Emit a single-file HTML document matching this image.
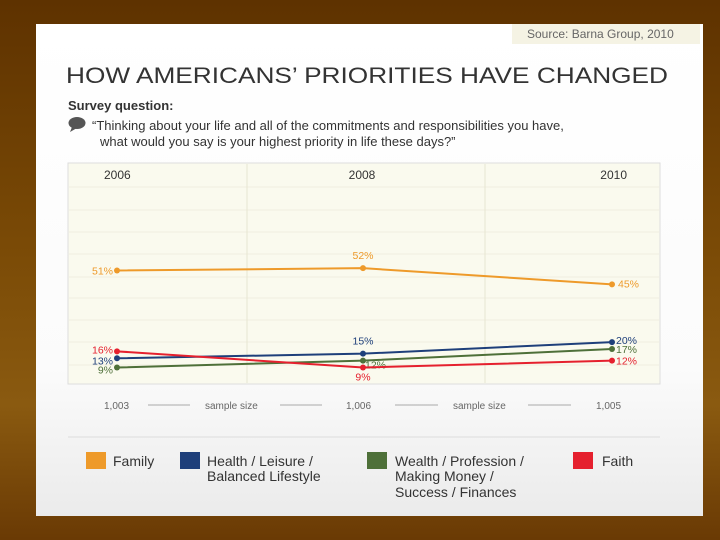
<!DOCTYPE html>
<html><head><meta charset="utf-8"><style>
body{margin:0;width:720px;height:540px;overflow:hidden;background:linear-gradient(180deg,#5e3200 0%,#7a4a06 45%,#8a5a10 75%,#6a3a04 100%);font-family:"Liberation Sans",sans-serif}
</style></head><body>
<svg width="720" height="540" style="position:absolute;left:0;top:0;font-family:'Liberation Sans',sans-serif">
<defs><linearGradient id="cg" x1="0" y1="0" x2="0" y2="1"><stop offset="0" stop-color="#ffffff"/><stop offset="0.7" stop-color="#fbfbfb"/><stop offset="1" stop-color="#ebebeb"/></linearGradient></defs>
<rect x="36" y="24" width="667" height="492" fill="url(#cg)"/>
<rect x="512" y="24" width="188" height="20" fill="#f5f3e4"/>
<text x="527" y="38" font-size="12" fill="#666">Source:  Barna Group, 2010</text>
<text x="66" y="83" font-size="22" fill="#333" textLength="602" lengthAdjust="spacingAndGlyphs">HOW AMERICANS’ PRIORITIES HAVE CHANGED</text>
<text x="68" y="110" font-size="13" font-weight="bold" fill="#333">Survey question:</text>
<g><ellipse cx="77" cy="123" rx="8.5" ry="6" fill="#555"/><path d="M72 127 L70 132 L77 128Z" fill="#555"/></g>
<text x="92" y="130" font-size="13" fill="#333">“Thinking about your life and all of the commitments and responsibilities you have,</text>
<text x="100" y="146" font-size="13" fill="#333">what would you say is your highest priority in life these days?”</text>
<rect x="68" y="163" width="592" height="221" fill="#fafaee" stroke="#ddd"/>
<g id="grid"></g>
<g id="marks"></g>
<g font-size="10" fill="#666">
<text x="104" y="409">1,003</text><line x1="148" y1="405" x2="190" y2="405" stroke="#aaa"/>
<text x="205" y="409">sample size</text><line x1="280" y1="405" x2="322" y2="405" stroke="#aaa"/>
<text x="346" y="409">1,006</text><line x1="395" y1="405" x2="438" y2="405" stroke="#aaa"/>
<text x="453" y="409">sample size</text><line x1="528" y1="405" x2="571" y2="405" stroke="#aaa"/>
<text x="596" y="409">1,005</text></g>
<line x1="68" y1="437" x2="660" y2="437" stroke="#ddd"/>
<g font-size="14" fill="#333">
<g><rect x="86" y="452" width="20" height="17" fill="#ee9a2a"/><text x="113" y="466">Family</text></g>
<g><rect x="180" y="452" width="20" height="17" fill="#1e3f7a"/><text x="207" y="466">Health / Leisure /</text><text x="207" y="481">Balanced Lifestyle</text></g>
<g><rect x="367" y="452" width="20" height="17" fill="#4e7039"/><text x="395" y="466">Wealth / Profession /</text><text x="395" y="481">Making Money /</text><text x="395" y="497">Success / Finances</text></g>
<g><rect x="573" y="452" width="20" height="17" fill="#e5202e"/><text x="602" y="466">Faith</text></g>
</g>
</svg>
<script>
const years=["2006","2008","2010"];
const family=[51,52,45];
const health=[13,15,20];
const wealth=[9,12,17];
const faith=[16,9,12];
const NS="http://www.w3.org/2000/svg";
const xPos=i=>[117,363,612][i];
function y(v){return 388.3-2.31*v;}
function mk(t,a,p){const e=document.createElementNS(NS,t);for(const k in a)e.setAttribute(k,a[k]);p.appendChild(e);return e;}
const grid=document.getElementById('grid'),marks=document.getElementById('marks');
[187,210,232,254,277,298,320,342,365].forEach(gy=>{const l=mk('line',{x1:69,x2:659,y1:gy,y2:gy,stroke:'#f0efe0'},grid);

});
[247,485].forEach(gx=>{const l=mk('line',{x1:gx,x2:gx,y1:164,y2:383,stroke:'#e6e5d2'},grid);

});
const yl=[[104,'start'],[362,'middle'],[627,'end']];
years.forEach((yr,i)=>{const t=mk('text',{x:yl[i][0],y:179,'font-size':12,fill:'#333','text-anchor':yl[i][1]},grid);t.textContent=yr;

});
const series=[
 {n:'family',d:family,c:'#ee9a2a',off:[[-4,4,'end'],[0,-9,'middle'],[6,3,'start']]},
 {n:'health',d:health,c:'#1e3f7a',off:[[-4,6,'end'],[0,-9,'middle'],[4,2,'start']]},
 {n:'wealth',d:wealth,c:'#4e7039',off:[[-4,6,'end'],[2,8,'start'],[4,4,'start']]},
 {n:'faith',d:faith,c:'#e5202e',off:[[-4,2,'end'],[0,13,'middle'],[4,4,'start']]}];
series.forEach(s=>{
 const pts=s.d.map((v,i)=>xPos(i)+','+y(v)).join(' ');
 const pl=mk('polyline',{points:pts,fill:'none',stroke:s.c,'stroke-width':2},marks);
 
 
 s.d.forEach((v,i)=>{
  const c=mk('circle',{cx:xPos(i),cy:y(v),r:3,fill:s.c},marks);
  
  
  const o=s.off[i];
  const t=mk('text',{x:xPos(i)+o[0],y:y(v)+o[1],'font-size':10.5,fill:s.c,'text-anchor':o[2]},marks);
  t.textContent=v+'%';
  
  
 });
});
</script>
</body></html>
